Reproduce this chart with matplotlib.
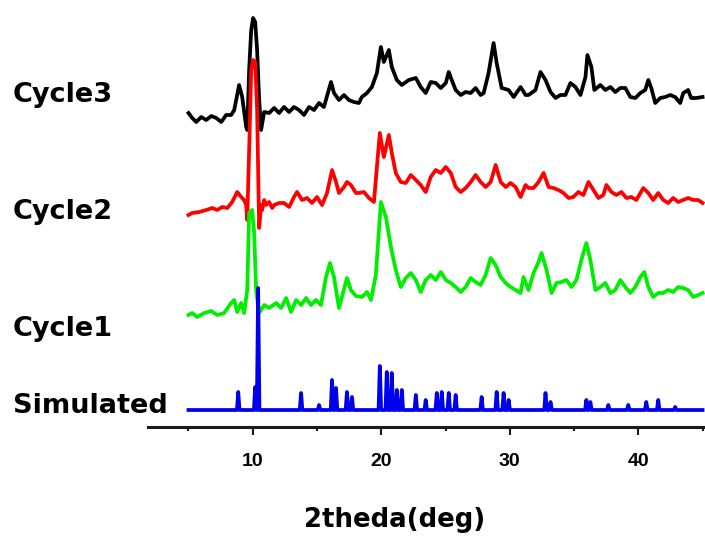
import matplotlib
matplotlib.use("Agg")
import matplotlib.pyplot as plt
from matplotlib.ticker import MultipleLocator

# 2-theta positions (deg) and intensities (a.u., above each trace's baseline)
cycle3_2t = [5.0, 5.29, 5.61, 5.99, 6.38, 6.77, 7.16, 7.55, 7.93, 8.32, 8.56, 8.94, 9.18, 9.49, 9.57,
             9.72, 9.88, 10.03, 10.19, 10.34, 10.50, 10.65, 10.89, 11.28, 11.67, 12.05, 12.44, 12.83,
             13.21, 13.60, 13.99, 14.38, 14.77, 15.16, 15.54, 16.09, 16.32, 16.71, 17.10, 17.48, 17.87,
             18.26, 18.49, 18.89, 19.27, 19.66, 19.97, 20.20, 20.59, 20.82, 21.21, 21.60, 22.14, 22.69,
             23.07, 23.46, 23.85, 24.24, 24.63, 25.02, 25.25, 25.48, 25.79, 26.18, 26.57, 26.96, 27.34,
             27.73, 27.97, 28.35, 28.74, 28.98, 29.37, 29.91, 30.30, 30.84, 31.23, 31.46, 32.00, 32.39,
             32.78, 33.17, 33.56, 33.94, 34.33, 34.72, 35.11, 35.50, 35.89, 36.04, 36.35, 36.58, 37.05,
             37.44, 37.83, 38.21, 38.60, 38.99, 39.38, 39.77, 40.16, 40.54, 40.78, 41.01, 41.32, 41.71,
             42.10, 42.48, 42.87, 43.26, 43.50, 43.88, 44.11, 44.50, 45.0]
cycle3_int = [12, 7, 3, 8, 5, 9, 7, 3, 10, 10, 15, 40, 28, -2, -5,
              55, 95, 107, 103, 75, 25, -5, 13, 12, 17, 12, 18, 13,
              18, 15, 10, 18, 15, 22, 18, 43, 32, 25, 30, 25, 23,
              22, 28, 32, 38, 52, 78, 63, 75, 58, 45, 40, 45, 47,
              38, 32, 43, 42, 37, 42, 53, 45, 35, 30, 33, 32, 37,
              30, 32, 52, 82, 62, 37, 35, 28, 38, 30, 30, 35, 53,
              45, 33, 27, 30, 30, 42, 38, 30, 48, 70, 58, 35, 40,
              35, 38, 33, 37, 37, 28, 27, 32, 35, 45, 37, 22, 27,
              28, 30, 28, 22, 32, 35, 27, 27, 28]

cycle2_2t = [5.0, 5.29, 5.84, 6.38, 6.86, 7.24, 7.63, 8.02, 8.40, 8.79, 9.10, 9.33, 9.49, 9.57,
             9.72, 9.88, 10.03, 10.19, 10.34, 10.50, 10.65, 10.73, 10.89, 11.04, 11.28, 11.51, 11.67,
             12.05, 12.44, 12.83, 13.21, 13.45, 13.84, 14.22, 14.61, 15.00, 15.39, 15.78, 16.17, 16.48,
             16.71, 17.10, 17.33, 17.64, 18.03, 18.26, 18.65, 19.04, 19.43, 19.66, 19.89, 20.20, 20.59,
             20.82, 21.13, 21.52, 21.91, 22.30, 22.69, 23.07, 23.46, 23.85, 24.24, 24.63, 25.02, 25.41,
             25.79, 26.18, 26.57, 26.96, 27.34, 27.73, 28.12, 28.51, 28.90, 29.29, 29.68, 30.06, 30.45,
             30.84, 31.23, 31.46, 31.85, 32.24, 32.63, 33.02, 33.40, 33.79, 34.18, 34.57, 34.95, 35.34,
             35.73, 36.12, 36.51, 36.90, 37.28, 37.52, 37.91, 38.30, 38.69, 39.07, 39.46, 39.85, 40.39,
             40.78, 41.16, 41.55, 41.94, 42.33, 42.71, 43.10, 43.49, 43.88, 44.27, 44.66, 45.0]
cycle2_int = [0, 2, 3, 5, 7, 5, 8, 7, 13, 23, 18, 15, 10, -5,
              65, 145, 155, 153, 105, -13, 10, 5, 15, 10, 13, 7, 10,
              12, 12, 8, 18, 23, 15, 17, 12, 18, 10, 22, 45, 33,
              22, 28, 33, 30, 22, 22, 23, 17, 13, 48, 82, 58, 80,
              62, 42, 33, 32, 40, 35, 30, 23, 38, 45, 42, 48, 42,
              28, 23, 27, 33, 40, 33, 28, 33, 50, 33, 28, 32, 28,
              18, 30, 27, 27, 33, 42, 28, 27, 25, 22, 17, 18, 23,
              20, 33, 25, 17, 20, 30, 23, 20, 23, 17, 18, 15, 27,
              22, 15, 22, 15, 12, 17, 13, 15, 17, 15, 15, 12]

cycle1_2t = [5.0, 5.29, 5.68, 6.23, 6.77, 7.24, 7.78, 8.32, 8.56, 8.79, 9.10, 9.33, 9.57, 9.72,
             9.95, 10.11, 10.26, 10.50, 10.89, 11.28, 11.82, 12.21, 12.60, 12.98, 13.37, 13.76, 14.15,
             14.53, 14.92, 15.31, 15.70, 16.01, 16.32, 16.71, 16.94, 17.33, 17.64, 18.03, 18.49, 18.89,
             19.20, 19.58, 19.97, 20.36, 20.75, 21.13, 21.52, 21.91, 22.30, 22.69, 23.07, 23.46, 23.85,
             24.24, 24.63, 25.02, 25.41, 25.79, 26.18, 26.57, 26.96, 27.34, 27.73, 28.12, 28.51, 28.90,
             29.29, 29.68, 30.06, 30.45, 30.84, 31.07, 31.46, 31.85, 32.24, 32.47, 32.86, 33.25, 33.63,
             34.02, 34.41, 34.80, 35.19, 35.57, 35.96, 36.27, 36.66, 37.05, 37.44, 37.83, 38.21, 38.60,
             38.99, 39.38, 39.77, 40.16, 40.47, 40.78, 41.16, 41.55, 41.94, 42.33, 42.71, 43.10, 43.49,
             43.88, 44.27, 44.66, 45.0]
cycle1_int = [3, 5, 1, 5, 7, 3, 5, 15, 18, 6, 15, 5, 28, 105,
              108, 85, 28, 5, 13, 10, 15, 10, 20, 6, 18, 13, 20,
              13, 18, 13, 41, 55, 41, 10, 21, 40, 28, 22, 21, 26,
              18, 43, 116, 101, 71, 48, 31, 40, 45, 38, 26, 38, 43,
              38, 46, 38, 35, 31, 26, 31, 40, 36, 33, 43, 60, 53,
              41, 35, 31, 28, 25, 41, 28, 45, 56, 65, 48, 25, 35,
              36, 38, 31, 38, 58, 75, 58, 28, 31, 35, 25, 28, 38,
              31, 25, 31, 41, 46, 31, 21, 25, 25, 28, 26, 31, 30,
              28, 21, 23, 25]

# calculated pattern: reflection positions and peak heights
sim_peaks = [8.87, 10.19, 10.42, 13.76, 15.16, 16.17, 16.48, 17.33, 17.72, 19.89, 20.43, 20.82,
             21.21, 21.60, 22.69, 23.46, 24.32, 24.71, 25.25, 25.79, 27.81, 28.98, 29.52, 29.91,
             32.78, 33.17, 35.96, 36.27, 37.67, 39.22, 40.62, 41.55, 42.87]
sim_heights = [18, 23, 122, 17, 5, 30, 22, 18, 13, 44, 38, 37,
               20, 20, 15, 10, 17, 18, 17, 15, 13, 18, 17, 10,
               17, 8, 10, 8, 5, 5, 8, 10, 3]

labels = ["Cycle3", "Cycle2", "Cycle1", "Simulated"]
tick_vals = [10, 20, 30, 40]

# stick-like profile for the simulated pattern
half_w = 0.1
sim_2t = [5.0]
sim_int = [0]
for p, h in zip(sim_peaks, sim_heights):
    sim_2t += [p - half_w, p, p + half_w]
    sim_int += [0, h, 0]
sim_2t.append(45.0)
sim_int.append(0)

traces = [
    (cycle3_2t, cycle3_int, 302, "black"),
    (cycle2_2t, cycle2_int, 212, "#ff0000"),
    (cycle1_2t, cycle1_int, 109, "#00ee00"),
    (sim_2t, sim_int, 17, "#0000ee"),
]

fig = plt.figure(figsize=(7.05, 5.37), dpi=100)
ax = fig.add_axes([148 / 705, 110 / 537, 557 / 705, 427 / 537])

for xs, ys, offset, col in traces:
    ax.plot(xs, [v + offset for v in ys], color=col, lw=2.7, solid_joinstyle="round")

ax.set_xlim(1.85, 45.19)
ax.set_ylim(0, 427)

for side in ["left", "top", "right"]:
    ax.spines[side].set_visible(False)
ax.spines["bottom"].set_linewidth(2.2)
ax.spines["bottom"].set_color("#1a1a1a")
ax.set_yticks([])

ax.set_xticks(tick_vals)
ax.xaxis.set_minor_locator(MultipleLocator(5))
ax.tick_params(axis="x", which="major", direction="out", length=5.8, width=1.5,
               color="#1a1a1a", pad=13)
ax.tick_params(axis="x", which="minor", direction="out", length=2.9, width=1.5,
               color="#1a1a1a")
for lbl in ax.get_xticklabels():
    lbl.set_fontfamily("Liberation Sans")
    lbl.set_fontweight("bold")
    lbl.set_fontsize(14)

# curve names on the left
label_base = [102, 219, 336, 413]
for txt, yb in zip(labels, label_base):
    fig.text(13 / 705, (537 - yb) / 537, txt, family="DejaVu Sans", weight="bold",
             fontsize=19.5, ha="left", va="baseline")

fig.text(395 / 705, (537 - 527) / 537, "2theda(deg)", family="DejaVu Sans", weight="bold",
         fontsize=18.7, ha="center", va="baseline")

fig.savefig("out.png", dpi=100)
